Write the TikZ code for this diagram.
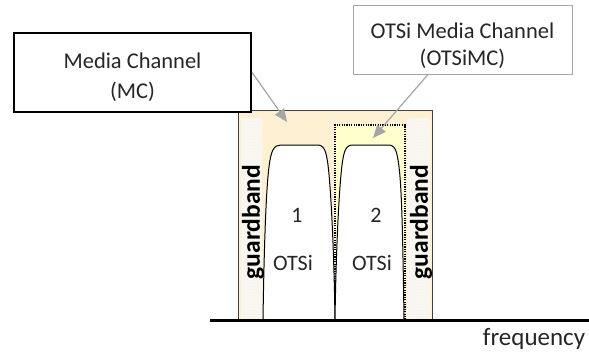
\documentclass[tikz,border=0pt]{standalone}
\usepackage{fontspec}
\setmainfont{Carlito}
\usetikzlibrary{patterns,calc,arrows.meta}
\definecolor{mcfill}{RGB}{254,240,210}
\definecolor{otfill}{RGB}{255,255,206}
\definecolor{gbfill}{RGB}{244,243,238}
\definecolor{gbhatch}{RGB}{252,250,240}
\definecolor{arrgray}{RGB}{166,166,166}
\definecolor{txt}{RGB}{38,38,38}
\tikzset{
  callout/.style={draw, fill=white, inner sep=0pt},
  callouttext/.style={align=center, text=txt, inner sep=0pt},
  pointer/.style={draw=arrgray, line width=1.2pt, -{Triangle[length=13pt,width=11pt]}},
  signal/.style={draw=black, fill=white, line width=1pt},
  lbl/.style={text=txt, font=\fontsize{22}{24}\selectfont, inner sep=0pt},
  gband/.style={rotate=90, font=\fontsize{25.5}{27}\selectfont\bfseries, inner sep=0pt},
  guardfill/.style={fill=gbfill, postaction={pattern=crosshatch, pattern color=gbhatch}}
}
\begin{document}
\begin{tikzpicture}[x=1pt,y=-1pt]
\useasboundingbox (0,0) rectangle (589,354);
% media channel area
\fill[mcfill] (238,110) rectangle (432,320);
\path[guardfill] (241,118) rectangle (262,320);
\path[guardfill] (407,118) rectangle (430,320);
\draw[draw={rgb,255:red,64;green,64;blue,64}, line width=0.8pt] (238,320) -- (238,110) -- (432,110) -- (432,320);
% OTSi media channel
\fill[otfill] (335,125) rectangle (405,320);
\draw[line width=2pt, dash pattern=on 1.2pt off 1.2pt] (335,320) -- (335,125) -- (405,125) -- (405,320);
% signals
\path[signal] (263,320) .. controls (264,250) and (266,190) .. (269,167)
  .. controls (271,150) and (274,145) .. (281,145) -- (317,145)
  .. controls (324,145) and (326,150) .. (328,165)
  .. controls (331,190) and (334,250) .. (335,320);
\path[signal] (335,320) .. controls (336,250) and (339,190) .. (342,165)
  .. controls (344,150) and (346,145) .. (353,145) -- (388,145)
  .. controls (395,145) and (397,150) .. (399,167)
  .. controls (402,190) and (403,250) .. (404,320);
% axis
\draw[line width=3pt] (210,320) -- (589,320);
% labels
\node[gband] (gb1) at (253,222) {guardband};
\node[gband] (gb2) at (421,222) {guardband};
\node[lbl] (n1) at (297,215) {1};
\node[lbl] (n2) at (376,215) {2};
\node[lbl] (o1) at (293,263) {OTSi};
\node[lbl] (o2) at (372,263) {OTSi};
\node[lbl, font=\fontsize{25}{27}\selectfont] (freq) at (534,339) {frequency};
% callouts
\node[callout, line width=2.2pt, minimum width=237pt, minimum height=79pt] (mc) at (132.5,72.5) {};
\node[callouttext, font=\fontsize{22.5}{30}\selectfont] (mctext) at ($(mc.center)+(0,4.5)$) {Media Channel\\(MC)};
\node[callout, draw={rgb,255:red,165;green,165;blue,165}, line width=0.9pt,
  minimum width=219pt, minimum height=69pt] (otmc) at (462.5,39.5) {};
\node[callouttext, font=\fontsize{22.5}{27}\selectfont] (otmctext) at ($(otmc.center)+(0,6.5)$) {OTSi Media Channel\\(OTSiMC)};
\coordinate (mctip) at (287,122);
\coordinate (ottip) at (373,138);
\draw[pointer] (mc.east) -- (mctip);
\draw[pointer] ($(otmc.south)+(-34.5,0)$) -- (ottip);
\end{tikzpicture}
\end{document}
